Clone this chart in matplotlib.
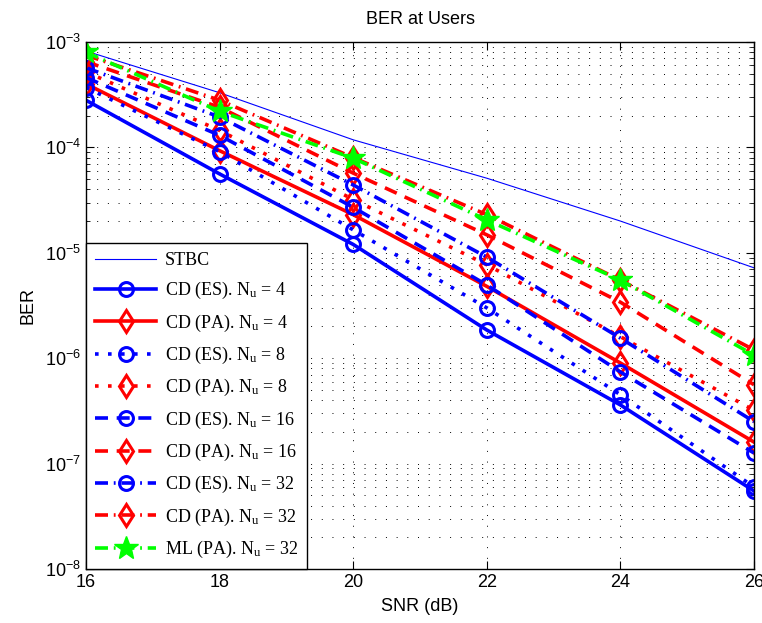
import numpy as np
import matplotlib.pyplot as plt
from matplotlib.ticker import LogLocator, NullFormatter

plt.rcParams['font.family'] = ['Liberation Sans', 'DejaVu Sans']
plt.rcParams['mathtext.fontset'] = 'custom'
plt.rcParams['mathtext.rm'] = 'Liberation Serif'
plt.rcParams['mathtext.it'] = 'Liberation Serif:italic'

snr = [16, 18, 20, 22, 24, 26]

ber_stbc = [8.2e-4, 3.3e-4, 1.18e-4, 5.1e-5, 2.0e-5, 7.2e-6]
ber_es4 = [2.8e-4, 5.6e-5, 1.2e-5, 1.85e-6, 3.6e-7, 5.5e-8]
ber_pa4 = [4.0e-4, 9.3e-5, 2.3e-5, 4.8e-6, 9.0e-7, 1.6e-7]
ber_es8 = [3.7e-4, 9.1e-5, 1.65e-5, 3.0e-6, 4.5e-7, 6.0e-8]
ber_pa8 = [5.2e-4, 1.45e-4, 3.2e-5, 7.7e-6, 1.6e-6, 3.2e-7]
ber_es16 = [4.6e-4, 1.3e-4, 2.7e-5, 4.95e-6, 7.4e-7, 1.26e-7]
ber_pa16 = [6.5e-4, 2.4e-4, 5.7e-5, 1.48e-5, 3.4e-6, 5.6e-7]
ber_es32 = [5.7e-4, 1.94e-4, 4.4e-5, 9.1e-6, 1.55e-6, 2.5e-7]
ber_pa32 = [7.5e-4, 2.8e-4, 8.0e-5, 2.3e-5, 5.5e-6, 1.2e-6]
ber_ml32 = [8.0e-4, 2.2e-4, 7.9e-5, 2.05e-5, 5.5e-6, 1.07e-6]

labels = ['STBC',
          r'CD (ES). N$_\mathrm{u}$ = 4', r'CD (PA). N$_\mathrm{u}$ = 4',
          r'CD (ES). N$_\mathrm{u}$ = 8', r'CD (PA). N$_\mathrm{u}$ = 8',
          r'CD (ES). N$_\mathrm{u}$ = 16', r'CD (PA). N$_\mathrm{u}$ = 16',
          r'CD (ES). N$_\mathrm{u}$ = 32', r'CD (PA). N$_\mathrm{u}$ = 32',
          r'ML (PA). N$_\mathrm{u}$ = 32']

blue, red, green = (0, 0, 1), (1, 0, 0), (0, 1, 0)
solid = '-'
dotted = (0, (1.0, 2.6))
dashed = (0, (3.6, 2.4))
dashdot = (0, (3.6, 1.6, 0.5, 1.6))

series = [
    (ber_es4, blue, solid, 'o'),
    (ber_pa4, red, solid, 'd'),
    (ber_es8, blue, dotted, 'o'),
    (ber_pa8, red, dotted, 'd'),
    (ber_es16, blue, dashed, 'o'),
    (ber_pa16, red, dashed, 'd'),
    (ber_es32, blue, dashdot, 'o'),
    (ber_pa32, red, dashdot, 'd'),
]

fig = plt.figure(figsize=(7.62, 6.23), dpi=100)
ax = fig.add_axes([0.1129, 0.0867, 0.8766, 0.8459])

ax.semilogy(snr, ber_stbc, color=blue, lw=0.8, label=labels[0])
for (vals, col, ls, mk), lab in zip(series, labels[1:9]):
    ms = 10 if mk == 'o' else 11.5
    ax.semilogy(snr, vals, color=col, ls=ls, lw=2.6, marker=mk, ms=ms,
                mfc='none', mec=col, mew=2.2, label=lab)
ax.semilogy(snr, ber_ml32, color=green, ls=dashdot, lw=2.6, marker='*',
            ms=18, mfc=green, mec=green, mew=1, label=labels[9])

ax.set_xlim(16, 26)
ax.set_ylim(1e-8, 1e-3)
ax.set_xticks(snr)
ax.yaxis.set_major_locator(LogLocator(base=10, numticks=10))
ax.yaxis.set_minor_locator(LogLocator(base=10, subs=np.arange(2, 10), numticks=20))
ax.yaxis.set_minor_formatter(NullFormatter())
ax.tick_params(which='both', direction='in', top=True, right=True, labelsize=13)
ax.tick_params(which='major', length=6)
ax.tick_params(which='minor', length=3)
ax.grid(True, which='major', color='k', ls=(0, (1, 10)), lw=0.7)
ax.grid(True, which='minor', axis='y', color='k', ls=(0, (1, 10)), lw=0.7)
for s in ax.spines.values():
    s.set_linewidth(1.0)

ax.set_xlabel('SNR (dB)', fontsize=13, labelpad=5)
ax.set_ylabel('BER', fontsize=13, labelpad=6)
ax.set_title('BER at Users', fontsize=13, pad=13)

leg = ax.legend(loc='lower left', borderaxespad=0, fancybox=False,
                edgecolor='k', framealpha=1, numpoints=1, handlelength=3.4,
                handletextpad=0.45, labelspacing=0.62, borderpad=0.5,
                prop={'family': 'Liberation Serif', 'size': 13})
leg.get_frame().set_linewidth(1.0)

fig.savefig('out.png', dpi=100)
